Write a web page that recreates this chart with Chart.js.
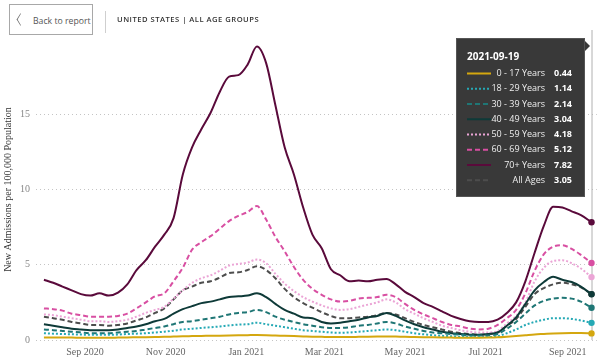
<!DOCTYPE html>
<html>
<head>
<meta charset="utf-8">
<script src="https://cdn.jsdelivr.net/npm/chart.js@4.4.0/dist/chart.umd.min.js"></script>
<style>
  html, body { margin: 0; padding: 0; background: #fff; }
  #wrap { position: relative; width: 600px; height: 364px; overflow: hidden; }
  #chart { position: absolute; left: 0; top: 0; }
  .back { position: absolute; left: 9px; top: 4px; width: 84px; height: 31px; box-sizing: border-box;
          border: 1px solid #a8a8a8; background: #fff; }
  .back .chev { position: absolute; left: 6px; top: 10px; width: 8px; height: 8px;
                border-left: 1px solid #666; border-bottom: 1px solid #666;
                transform: scaleX(0.6) rotate(45deg); }
  .back .txt { position: absolute; left: 23px; top: 10px; font-family: "Open Sans"; font-size: 8.7px; color: #555; }
  .sep { position: absolute; left: 105px; top: 11px; width: 1px; height: 22px; background: #cfcfcf; }
  .title { position: absolute; left: 117px; top: 14px; font-family: "Open Sans"; font-weight: 600;
           font-size: 7.6px; letter-spacing: 0.5px; color: #333; }
</style>
</head>
<body>
<div id="wrap">
  <canvas id="chart" width="600" height="364"></canvas>
  <div class="back"><span class="chev"></span><span class="txt">Back to report</span></div>
  <div class="sep"></div>
  <div class="title">UNITED STATES | ALL AGE GROUPS</div>
</div>
<script>
// Wochenwerte, 7-Tage-Schnitt
const dates = [
  '2020-08-01','2020-08-08','2020-08-15','2020-08-22','2020-08-29','2020-09-05','2020-09-12','2020-09-19',
  '2020-09-26','2020-10-03','2020-10-10','2020-10-17','2020-10-24','2020-10-31','2020-11-07','2020-11-14',
  '2020-11-21','2020-11-28','2020-12-05','2020-12-12','2020-12-19','2020-12-26','2021-01-02','2021-01-09',
  '2021-01-16','2021-01-23','2021-01-30','2021-02-06','2021-02-13','2021-02-20','2021-02-27','2021-03-06',
  '2021-03-13','2021-03-20','2021-03-27','2021-04-03','2021-04-10','2021-04-17','2021-04-24','2021-05-01',
  '2021-05-08','2021-05-15','2021-05-22','2021-05-29','2021-06-05','2021-06-12','2021-06-19','2021-06-26',
  '2021-07-03','2021-07-10','2021-07-17','2021-07-24','2021-07-31','2021-08-07','2021-08-14','2021-08-21',
  '2021-08-28','2021-09-04','2021-09-11','2021-09-19'
];

const age0to17 = [0.17,0.17,0.16,0.16,0.15,0.15,0.15,0.15,0.16,0.17,0.18,0.19,0.20,0.21,0.23,0.25,
  0.26,0.27,0.28,0.29,0.30,0.31,0.32,0.33,0.32,0.30,0.28,0.26,0.24,0.22,0.21,0.20,
  0.20,0.20,0.21,0.22,0.23,0.24,0.23,0.21,0.20,0.19,0.18,0.17,0.16,0.15,0.15,0.15,
  0.16,0.18,0.22,0.27,0.32,0.37,0.40,0.43,0.45,0.46,0.46,0.44];
const age18to29 = [0.45,0.42,0.40,0.38,0.36,0.35,0.35,0.35,0.36,0.40,0.42,0.45,0.50,0.55,0.62,0.70,
  0.75,0.80,0.85,0.90,0.97,1.02,1.05,1.15,1.05,0.95,0.85,0.75,0.65,0.60,0.55,0.50,
  0.48,0.50,0.55,0.60,0.65,0.70,0.65,0.55,0.45,0.38,0.32,0.28,0.25,0.22,0.20,0.20,
  0.20,0.25,0.45,0.70,1.00,1.20,1.35,1.45,1.45,1.40,1.30,1.14];
const age30to39 = [0.70,0.65,0.60,0.55,0.50,0.45,0.45,0.45,0.50,0.55,0.60,0.70,0.80,0.90,1.05,1.20,
  1.25,1.35,1.45,1.55,1.70,1.80,1.85,2.00,1.85,1.55,1.35,1.20,1.05,0.95,0.85,0.80,
  0.80,0.85,0.95,1.00,1.10,1.20,1.10,0.90,0.75,0.60,0.50,0.45,0.40,0.35,0.30,0.30,
  0.30,0.40,0.75,1.20,1.75,2.30,2.60,2.75,2.80,2.75,2.55,2.14];
const age40to49 = [1.05,0.95,0.85,0.75,0.70,0.65,0.65,0.65,0.70,0.80,0.90,1.05,1.25,1.40,1.75,2.05,
  2.25,2.45,2.55,2.70,2.85,2.90,2.95,3.10,2.85,2.40,2.00,1.75,1.50,1.45,1.20,1.10,
  1.15,1.25,1.35,1.50,1.60,1.80,1.60,1.30,1.05,0.85,0.70,0.55,0.45,0.40,0.35,0.35,
  0.40,0.50,0.95,1.50,2.40,3.30,3.85,4.20,4.00,3.85,3.55,3.04];
const age50to59 = [1.70,1.65,1.55,1.45,1.35,1.25,1.25,1.20,1.25,1.35,1.55,1.80,2.00,2.20,2.75,3.30,
  3.80,4.10,4.30,4.60,4.95,5.05,5.15,5.35,5.10,4.40,3.75,3.25,2.85,2.55,2.30,2.10,
  2.00,2.05,2.20,2.35,2.50,2.70,2.50,2.05,1.75,1.45,1.20,0.95,0.80,0.65,0.55,0.50,
  0.50,0.60,1.10,1.60,2.50,3.90,4.80,5.25,5.30,5.10,4.75,4.18];
const age60to69 = [2.10,2.05,1.95,1.75,1.65,1.55,1.55,1.55,1.60,1.75,2.10,2.50,2.90,3.10,3.90,4.80,
  6.00,6.50,6.90,7.40,7.90,8.25,8.50,8.90,8.00,6.85,5.90,4.85,4.00,3.40,3.00,2.70,
  2.55,2.60,2.75,2.80,2.85,3.00,2.85,2.40,2.00,1.70,1.45,1.20,1.00,0.90,0.75,0.70,
  0.75,1.00,1.45,2.00,3.10,4.60,5.70,6.20,6.30,6.05,5.65,5.12];
const age70plus = [4.00,3.80,3.55,3.30,3.05,2.95,3.10,2.95,3.15,3.70,4.65,5.30,6.20,7.00,8.10,11.0,
  12.8,14.0,15.1,16.5,17.5,17.6,18.3,19.5,18.4,15.6,12.8,11.0,8.80,7.00,6.10,4.70,
  4.30,3.90,3.95,3.90,4.00,4.05,3.70,3.20,2.85,2.45,2.20,1.90,1.60,1.40,1.25,1.20,
  1.20,1.35,1.80,2.50,3.90,5.80,7.60,8.85,8.80,8.55,8.30,7.82];
const allAges = [1.55,1.45,1.35,1.20,1.10,1.00,1.00,0.95,1.00,1.10,1.30,1.50,1.80,2.10,2.70,3.30,
  3.55,3.80,3.90,4.15,4.45,4.50,4.65,4.90,4.65,4.10,3.40,2.85,2.45,2.15,1.85,1.60,
  1.45,1.45,1.50,1.55,1.65,1.80,1.70,1.45,1.20,1.00,0.85,0.70,0.55,0.45,0.40,0.35,
  0.40,0.50,0.95,1.40,2.20,3.05,3.45,3.70,3.80,3.70,3.50,3.05];

const seriesLabels = ['0 - 17 Years','18 - 29 Years','30 - 39 Years','40 - 49 Years',
  '50 - 59 Years','60 - 69 Years','70+ Years','All Ages'];
const seriesValues = [age0to17, age18to29, age30to39, age40to49, age50to59, age60to69, age70plus, allAges];
const seriesColors = ['#d4a70f','#25a9b5','#1f7675','#0e3a38','#eba5d6','#d84fa2','#5a0a3b','#4d4d4d'];
const seriesDash = [[], [2, 2], [5, 3], [], [2, 2], [5, 3], [], [5, 3]];

const tickDates = ['2020-09-01','2020-11-01','2021-01-01','2021-03-01','2021-05-01','2021-07-01','2021-09-01'];
const tickLabels = ['Sep 2020','Nov 2020','Jan 2021','Mar 2021','May 2021','Jul 2021','Sep 2021'];
const yTicks = [0, 5, 10, 15];

// Tage seit Start
const startMs = Date.parse(dates[0]);
const toDay = d => (Date.parse(d) - startMs) / 86400000;
const lastIdx = dates.length - 1;

const datasets = seriesValues.map((vals, i) => ({
  label: seriesLabels[i],
  data: vals.map((v, j) => ({ x: toDay(dates[j]), y: v })),
  borderColor: seriesColors[i],
  backgroundColor: seriesColors[i],
  borderWidth: 2,
  borderDash: seriesDash[i],
  fill: false,
  tension: 0.4,
  cubicInterpolationMode: 'monotone',
  pointRadius: ctx => ctx.dataIndex === lastIdx ? 3.2 : 0,
  pointBorderWidth: 0,
  pointBackgroundColor: seriesColors[i],
  pointHoverRadius: 0
}));

// Hover-Linie + Tooltip-Box
const hoverPlugin = {
  id: 'hoverBox',
  beforeDatasetsDraw(chart) {
    const ctx = chart.ctx;
    const x = chart.scales.x.getPixelForValue(toDay(dates[lastIdx]));
    ctx.save();
    ctx.strokeStyle = '#b0b0b0';
    ctx.lineWidth = 1;
    ctx.beginPath();
    ctx.moveTo(x + 0.5, 30);
    ctx.lineTo(x + 0.5, chart.chartArea.bottom);
    ctx.stroke();
    ctx.restore();
  },
  afterDraw(chart) {
    const ctx = chart.ctx;
    const bx = 456, by = 38, bw = 129, bh = 159;
    ctx.save();
    ctx.fillStyle = '#393939';
    ctx.strokeStyle = '#555';
    ctx.lineWidth = 1;
    ctx.fillRect(bx, by, bw, bh);
    ctx.strokeRect(bx + 0.5, by + 0.5, bw - 1, bh - 1);
    ctx.beginPath();
    ctx.moveTo(bx + bw, by + 3);
    ctx.lineTo(bx + bw + 5, by + 8);
    ctx.lineTo(bx + bw, by + 13);
    ctx.closePath();
    ctx.fill();

    ctx.textBaseline = 'middle';
    ctx.fillStyle = '#ffffff';
    ctx.font = 'bold 10px "Open Sans"';
    ctx.textAlign = 'left';
    ctx.fillText(dates[lastIdx], 467, 57);

    chart.data.datasets.forEach((ds, i) => {
      const y = 73.5 + i * 15.25;
      ctx.strokeStyle = ds.borderColor;
      ctx.lineWidth = 2;
      ctx.setLineDash(ds.borderDash);
      ctx.beginPath();
      ctx.moveTo(467, y);
      ctx.lineTo(491, y);
      ctx.stroke();
      ctx.setLineDash([]);

      ctx.fillStyle = '#eeeeee';
      ctx.font = '9px "Open Sans"';
      ctx.textAlign = 'right';
      ctx.fillText(ds.label, 545, y);

      ctx.fillStyle = '#ffffff';
      ctx.font = 'bold 9px "Open Sans"';
      ctx.textAlign = 'left';
      ctx.fillText(ds.data[lastIdx].y.toFixed(2), 554, y);
    });
    ctx.restore();
  }
};

const ctx = document.getElementById('chart').getContext('2d');
new Chart(ctx, {
  type: 'line',
  data: { datasets: datasets },
  plugins: [hoverPlugin],
  options: {
    responsive: false,
    animation: false,
    events: [],
    layout: { padding: { top: 39, right: 1, left: 0, bottom: 0 } },
    plugins: { legend: { display: false }, tooltip: { enabled: false } },
    scales: {
      x: {
        type: 'linear',
        min: -6,
        max: 418,
        grid: { display: false, drawTicks: false },
        border: { display: false },
        afterBuildTicks: scale => { scale.ticks = tickDates.map(d => ({ value: toDay(d) })); },
        afterFit: scale => { scale.height = 24; },
        ticks: {
          autoSkip: false,
          maxRotation: 0,
          padding: 6,
          color: '#666',
          font: { family: '"Liberation Serif"', size: 10 },
          callback: (value, index) => tickLabels[index]
        }
      },
      y: {
        min: 0,
        max: 20,
        grid: { color: '#c4c4c4', lineWidth: 1, drawTicks: false },
        border: { display: false, dash: [1, 3] },
        afterBuildTicks: scale => { scale.ticks = yTicks.map(v => ({ value: v })); },
        afterFit: scale => { scale.width = 36; },
        ticks: {
          padding: 6,
          color: '#888',
          font: { family: '"Liberation Serif"', size: 10 }
        },
        title: {
          display: true,
          text: 'New Admissions per 100,000 Population',
          color: '#333',
          padding: { top: 2, bottom: 0 },
          font: { family: '"Liberation Serif"', size: 10 }
        }
      }
    }
  }
});
</script>
</body>
</html>
